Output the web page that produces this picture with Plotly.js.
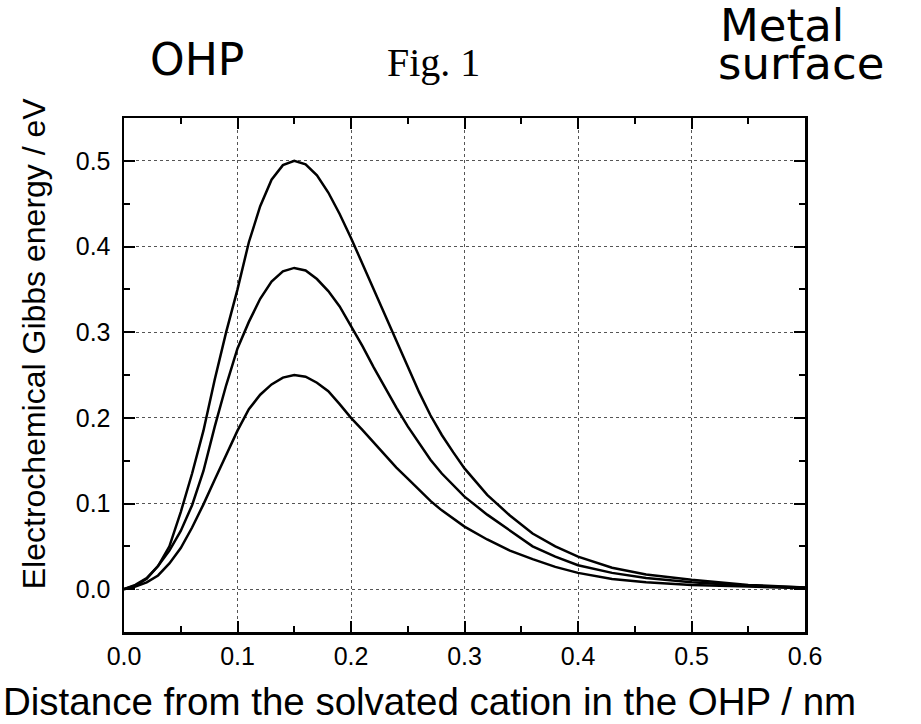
<!DOCTYPE html>
<html>
<head>
<meta charset="utf-8">
<script src="https://cdn.plot.ly/plotly-3.0.1.min.js"></script>
<style>html,body{margin:0;padding:0;background:#fff;}#chart{width:921px;height:724px;}</style>
</head>
<body>
<div id="chart"></div>
<script>
// Distance from the solvated cation in the OHP / nm
const distance = [0, 0.01, 0.02, 0.03, 0.04, 0.05, 0.06, 0.07, 0.08, 0.09, 0.10,
  0.11, 0.12, 0.13, 0.14, 0.15, 0.16, 0.17, 0.18, 0.19, 0.20,
  0.21, 0.22, 0.23, 0.24, 0.25, 0.26, 0.27, 0.28, 0.29, 0.30,
  0.32, 0.34, 0.36, 0.38, 0.40, 0.43, 0.46, 0.50, 0.55, 0.60];
// Electrochemical Gibbs energy / eV, three curves
const energyHigh = [0, 0.005, 0.013, 0.027, 0.050, 0.090, 0.135, 0.185, 0.245, 0.300, 0.350,
  0.405, 0.447, 0.478, 0.495, 0.500, 0.496, 0.483, 0.463, 0.438, 0.410,
  0.380, 0.348, 0.318, 0.288, 0.259, 0.230, 0.203, 0.180, 0.160, 0.141,
  0.110, 0.086, 0.065, 0.050, 0.038, 0.025, 0.017, 0.011, 0.005, 0.002];
const energyMid = [0, 0.004, 0.012, 0.027, 0.045, 0.068, 0.098, 0.138, 0.190, 0.238, 0.281,
  0.312, 0.339, 0.359, 0.371, 0.375, 0.372, 0.362, 0.348, 0.330, 0.307,
  0.284, 0.259, 0.235, 0.212, 0.190, 0.170, 0.151, 0.135, 0.121, 0.108,
  0.087, 0.068, 0.050, 0.038, 0.028, 0.019, 0.013, 0.008, 0.004, 0.002];
const energyLow = [0, 0.003, 0.008, 0.016, 0.030, 0.048, 0.072, 0.099, 0.128, 0.157, 0.185,
  0.210, 0.227, 0.239, 0.247, 0.250, 0.248, 0.241, 0.231, 0.216, 0.200,
  0.186, 0.171, 0.156, 0.142, 0.129, 0.116, 0.103, 0.092, 0.082, 0.073,
  0.058, 0.045, 0.035, 0.026, 0.019, 0.012, 0.008, 0.005, 0.003, 0.001];
const xTicks = [0, 0.1, 0.2, 0.3, 0.4, 0.5, 0.6];
const yTicks = [0, 0.1, 0.2, 0.3, 0.4, 0.5];

const ARIAL = 'Arial, "Liberation Sans", sans-serif';
const WIDE = '"DejaVu Sans", Verdana, sans-serif';
const lineStyle = {color: '#000', width: 2.5, shape: 'linear'};
const traces = [energyHigh, energyMid, energyLow].map(ys => ({
  x: distance, y: ys, type: 'scatter', mode: 'lines', line: lineStyle,
  hoverinfo: 'skip', showlegend: false
}));

const axisCommon = {
  showline: true, linecolor: '#000', linewidth: 2.5, mirror: 'ticks',
  ticks: 'inside', ticklen: 11, tickwidth: 2, tickcolor: '#000',
  showgrid: true, gridcolor: '#555', gridwidth: 1, griddash: 'dot',
  zeroline: false, tickformat: '.1f',
  tickfont: {family: ARIAL, size: 25, color: '#000'},
  minor: {ticks: 'inside', ticklen: 6, tickwidth: 2, tickcolor: '#000', showgrid: false}
};

const layout = {
  width: 921, height: 724,
  margin: {l: 124, r: 116, t: 118, b: 92},
  paper_bgcolor: '#fff', plot_bgcolor: '#fff',
  xaxis: Object.assign({}, axisCommon, {
    range: [0, 0.6], tickvals: xTicks, ticklabelstandoff: 0,
    minor: Object.assign({}, axisCommon.minor, {dtick: 0.05, tick0: 0})
  }),
  yaxis: Object.assign({}, axisCommon, {
    range: [-0.05, 0.55], tickvals: yTicks, ticklabelstandoff: 6,
    minor: Object.assign({}, axisCommon.minor, {dtick: 0.05, tick0: 0.05})
  }),
  annotations: [
    {text: 'Distance from the solvated cation in the OHP / nm', xref: 'paper', yref: 'paper',
     x: 0.449, y: -0.136, xanchor: 'center', yanchor: 'middle', showarrow: false,
     font: {family: ARIAL, size: 38.5, color: '#000'}},
    {text: 'Electrochemical Gibbs energy / eV', xref: 'paper', yref: 'paper', textangle: -90,
     x: -0.132, y: 0.562, xanchor: 'center', yanchor: 'middle', showarrow: false,
     font: {family: ARIAL, size: 32, color: '#000'}},
    {text: 'OHP', xref: 'paper', yref: 'paper',
     x: (197 - 124) / 681, y: (632 - 60) / 514, xanchor: 'center', yanchor: 'middle', showarrow: false,
     font: {family: WIDE, size: 44, color: '#000'}},
    {text: 'Fig. 1', xref: 'paper', yref: 'paper',
     x: (433 - 124) / 681, y: (632 - 63) / 514, xanchor: 'center', yanchor: 'middle', showarrow: false,
     font: {family: '"Times New Roman", "Liberation Serif", serif', size: 40, color: '#000'}},
    {text: 'Metal', xref: 'paper', yref: 'paper',
     x: (718 - 124) / 681, y: (632 - 26) / 514, xanchor: 'left', yanchor: 'middle', showarrow: false,
     font: {family: WIDE, size: 45, color: '#000'}},
    {text: 'surface', xref: 'paper', yref: 'paper',
     x: (716 - 124) / 681, y: (632 - 64) / 514, xanchor: 'left', yanchor: 'middle', showarrow: false,
     font: {family: WIDE, size: 45, color: '#000'}}
  ]
};

Plotly.newPlot('chart', traces, layout, {displayModeBar: false, staticPlot: true});
</script>
</body>
</html>
